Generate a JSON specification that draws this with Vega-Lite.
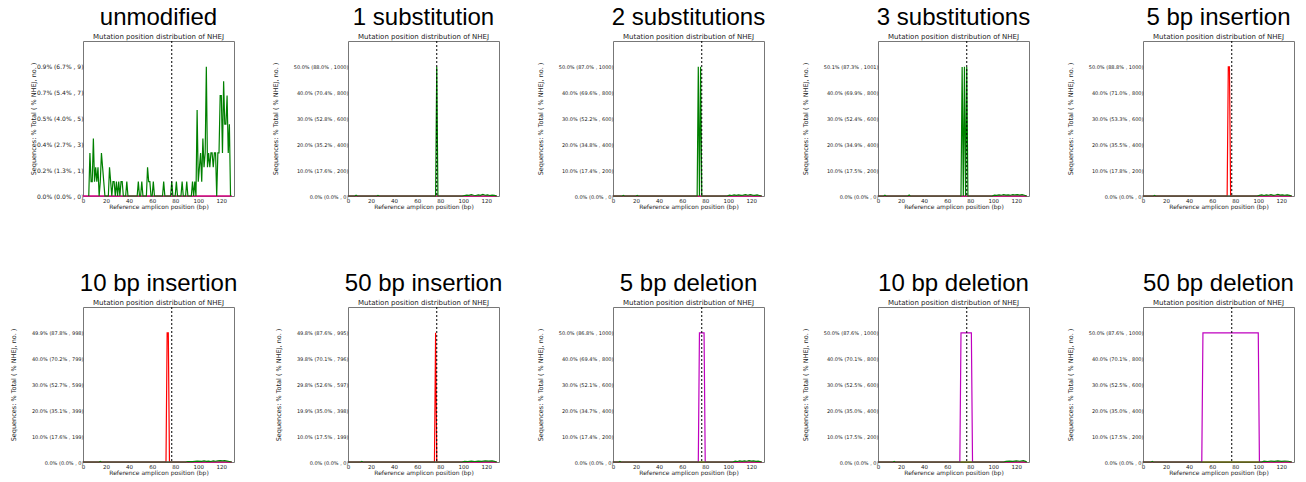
{
  "$schema": "https://vega.github.io/schema/vega-lite/v6.json",
  "background": "white",
  "padding": {"left": 9, "top": 5, "right": 5, "bottom": 5},
  "config": {
    "view": {"stroke": "#777", "strokeWidth": 1},
    "title": {"font": "Liberation Sans", "fontSize": 24, "fontWeight": "normal", "color": "black", "anchor": "middle", "offset": 1, "subtitleFont": "DejaVu Sans", "subtitleFontSize": 7, "subtitleColor": "#222", "subtitlePadding": 3},
    "axis": {"grid": false, "domain": false, "tickSize": 0, "labelFont": "DejaVu Sans", "labelColor": "#1a1a1a", "titleFont": "DejaVu Sans", "titleFontWeight": "normal", "titleColor": "#1a1a1a", "labelFlush": false, "labelOverlap": false},
    "axisX": {"labelPadding": 2, "labelFontSize": 5.5, "titleFontSize": 6, "titlePadding": 0},
    "axisY": {"labelPadding": 0, "labelFontSize": 5, "titleFontSize": 6.5, "titlePadding": 15},
    "line": {"strokeWidth": 1.2},
    "rule": {"strokeDash": [2, 2], "color": "black", "strokeWidth": 1}
  },
  "vconcat": [
    {
      "bounds": "flush",
      "spacing": 114,
      "hconcat": [
        {
          "title": {"text": "unmodified", "subtitle": "Mutation position distribution of NHEJ"},
          "width": 151, "height": 155,
          "layer": [
            {
              "data": {"values": [
                {"series": "insertion", "pos": 0, "count": 0}, {"series": "insertion", "pos": 129, "count": 0},
                {"series": "deletion", "pos": 0, "count": 0}, {"series": "deletion", "pos": 129, "count": 0},
                {"series": "substitution", "pos": 5, "count": 0}, {"series": "substitution", "pos": 6, "count": 3}, {"series": "substitution", "pos": 7, "count": 1}, {"series": "substitution", "pos": 8, "count": 1}, {"series": "substitution", "pos": 9, "count": 4}, {"series": "substitution", "pos": 10, "count": 1}, {"series": "substitution", "pos": 11, "count": 2}, {"series": "substitution", "pos": 12, "count": 1}, {"series": "substitution", "pos": 13, "count": 2}, {"series": "substitution", "pos": 14, "count": 0}, {"series": "substitution", "pos": 15, "count": 1}, {"series": "substitution", "pos": 16, "count": 3}, {"series": "substitution", "pos": 17, "count": 2}, {"series": "substitution", "pos": 18, "count": 1}, {"series": "substitution", "pos": 19, "count": 0}, {"series": "substitution", "pos": 22, "count": 0}, {"series": "substitution", "pos": 23, "count": 2}, {"series": "substitution", "pos": 24, "count": 1}, {"series": "substitution", "pos": 25, "count": 0}, {"series": "substitution", "pos": 26, "count": 1}, {"series": "substitution", "pos": 27, "count": 1}, {"series": "substitution", "pos": 28, "count": 0}, {"series": "substitution", "pos": 29, "count": 1}, {"series": "substitution", "pos": 30, "count": 0}, {"series": "substitution", "pos": 31, "count": 1}, {"series": "substitution", "pos": 32, "count": 0}, {"series": "substitution", "pos": 33, "count": 1}, {"series": "substitution", "pos": 34, "count": 1}, {"series": "substitution", "pos": 35, "count": 0}, {"series": "substitution", "pos": 37, "count": 0}, {"series": "substitution", "pos": 38, "count": 1}, {"series": "substitution", "pos": 39, "count": 0}, {"series": "substitution", "pos": 47, "count": 0}, {"series": "substitution", "pos": 48, "count": 1}, {"series": "substitution", "pos": 49, "count": 0}, {"series": "substitution", "pos": 50, "count": 0}, {"series": "substitution", "pos": 51, "count": 1}, {"series": "substitution", "pos": 52, "count": 0}, {"series": "substitution", "pos": 55, "count": 0}, {"series": "substitution", "pos": 56, "count": 2}, {"series": "substitution", "pos": 57, "count": 1}, {"series": "substitution", "pos": 58, "count": 1}, {"series": "substitution", "pos": 59, "count": 0}, {"series": "substitution", "pos": 60, "count": 0}, {"series": "substitution", "pos": 61, "count": 1}, {"series": "substitution", "pos": 62, "count": 0}, {"series": "substitution", "pos": 69, "count": 0}, {"series": "substitution", "pos": 70, "count": 1}, {"series": "substitution", "pos": 71, "count": 0}, {"series": "substitution", "pos": 76, "count": 0}, {"series": "substitution", "pos": 77, "count": 1}, {"series": "substitution", "pos": 78, "count": 0}, {"series": "substitution", "pos": 80, "count": 0}, {"series": "substitution", "pos": 81, "count": 1}, {"series": "substitution", "pos": 82, "count": 0}, {"series": "substitution", "pos": 85, "count": 0}, {"series": "substitution", "pos": 86, "count": 1}, {"series": "substitution", "pos": 87, "count": 0}, {"series": "substitution", "pos": 89, "count": 0}, {"series": "substitution", "pos": 90, "count": 1}, {"series": "substitution", "pos": 91, "count": 0}, {"series": "substitution", "pos": 94, "count": 0}, {"series": "substitution", "pos": 95, "count": 1}, {"series": "substitution", "pos": 96, "count": 0}, {"series": "substitution", "pos": 97, "count": 1}, {"series": "substitution", "pos": 98, "count": 0}, {"series": "substitution", "pos": 99, "count": 6}, {"series": "substitution", "pos": 100, "count": 1}, {"series": "substitution", "pos": 101, "count": 2}, {"series": "substitution", "pos": 102, "count": 3}, {"series": "substitution", "pos": 103, "count": 1}, {"series": "substitution", "pos": 104, "count": 4}, {"series": "substitution", "pos": 105, "count": 2}, {"series": "substitution", "pos": 106, "count": 3}, {"series": "substitution", "pos": 107, "count": 9}, {"series": "substitution", "pos": 108, "count": 2}, {"series": "substitution", "pos": 109, "count": 3}, {"series": "substitution", "pos": 110, "count": 2}, {"series": "substitution", "pos": 111, "count": 3}, {"series": "substitution", "pos": 112, "count": 3}, {"series": "substitution", "pos": 113, "count": 2}, {"series": "substitution", "pos": 114, "count": 3}, {"series": "substitution", "pos": 115, "count": 3}, {"series": "substitution", "pos": 116, "count": 0}, {"series": "substitution", "pos": 117, "count": 3}, {"series": "substitution", "pos": 118, "count": 3}, {"series": "substitution", "pos": 119, "count": 7}, {"series": "substitution", "pos": 120, "count": 7}, {"series": "substitution", "pos": 121, "count": 3}, {"series": "substitution", "pos": 122, "count": 8}, {"series": "substitution", "pos": 123, "count": 5}, {"series": "substitution", "pos": 124, "count": 5}, {"series": "substitution", "pos": 125, "count": 7}, {"series": "substitution", "pos": 126, "count": 3}, {"series": "substitution", "pos": 127, "count": 5}, {"series": "substitution", "pos": 128, "count": 0}
              ]},
              "mark": "line",
              "encoding": {
                "x": {"field": "pos", "type": "quantitative", "scale": {"domain": [0, 131], "nice": false}, "axis": {"values": [0, 20, 40, 60, 80, 100, 120], "tickCount": 10, "title": "Reference amplicon position (bp)"}},
                "y": {"field": "count", "type": "quantitative", "scale": {"domain": [0, 10.8], "nice": false}, "axis": {"values": [0, 1.8, 3.6, 5.4, 7.2, 9], "tickCount": 10, "labelFontSize": 6, "titlePadding": 0, "labelExpr": "['0.0% (0.0% , 0)', '0.2% (1.3% , 1)', '0.4% (2.7% , 3)', '0.5% (4.0% , 5)', '0.7% (5.4% , 7)', '0.9% (6.7% , 9)'][round(datum.value / 1.8)]", "title": "Sequences: % Total ( % NHEJ, no. )"}},
                "color": {"field": "series", "type": "nominal", "scale": {"domain": ["deletion", "insertion", "substitution"], "range": ["#bf00bf", "#ff0000", "#008000"]}, "legend": null}
              }
            },
            {"data": {"values": [{"cut": 77}]}, "mark": "rule", "encoding": {"x": {"field": "cut", "type": "quantitative"}}}
          ]
        },
        {
          "title": {"text": "1 substitution", "subtitle": "Mutation position distribution of NHEJ"},
          "width": 151, "height": 155,
          "layer": [
            {
              "data": {"values": [
                {"series": "insertion", "pos": 0, "count": 0}, {"series": "insertion", "pos": 129, "count": 0},
                {"series": "deletion", "pos": 0, "count": 0}, {"series": "deletion", "pos": 129, "count": 0},
                {"series": "substitution", "pos": 0, "count": 0}, {"series": "substitution", "pos": 6, "count": 0}, {"series": "substitution", "pos": 7, "count": 6}, {"series": "substitution", "pos": 8, "count": 0}, {"series": "substitution", "pos": 25, "count": 0}, {"series": "substitution", "pos": 26, "count": 4}, {"series": "substitution", "pos": 27, "count": 0}, {"series": "substitution", "pos": 76, "count": 0}, {"series": "substitution", "pos": 77, "count": 1000}, {"series": "substitution", "pos": 78, "count": 0}, {"series": "substitution", "pos": 99, "count": 0}, {"series": "substitution", "pos": 101, "count": 4}, {"series": "substitution", "pos": 103, "count": 7}, {"series": "substitution", "pos": 105, "count": 5}, {"series": "substitution", "pos": 107, "count": 10}, {"series": "substitution", "pos": 109, "count": 6}, {"series": "substitution", "pos": 111, "count": 4}, {"series": "substitution", "pos": 113, "count": 8}, {"series": "substitution", "pos": 115, "count": 5}, {"series": "substitution", "pos": 117, "count": 12}, {"series": "substitution", "pos": 119, "count": 6}, {"series": "substitution", "pos": 121, "count": 8}, {"series": "substitution", "pos": 123, "count": 4}, {"series": "substitution", "pos": 125, "count": 7}, {"series": "substitution", "pos": 127, "count": 5}, {"series": "substitution", "pos": 129, "count": 0}
              ]},
              "mark": "line",
              "encoding": {
                "x": {"field": "pos", "type": "quantitative", "scale": {"domain": [0, 131], "nice": false}, "axis": {"values": [0, 20, 40, 60, 80, 100, 120], "tickCount": 10, "title": "Reference amplicon position (bp)"}},
                "y": {"field": "count", "type": "quantitative", "scale": {"domain": [0, 1200], "nice": false}, "axis": {"values": [0, 200, 400, 600, 800, 1000], "tickCount": 10, "labelExpr": "['0.0% (0.0% , 0)', '10.0% (17.6% , 200)', '20.0% (35.2% , 400)', '30.0% (52.8% , 600)', '40.0% (70.4% , 800)', '50.0% (88.0% , 1000)'][round(datum.value / 200)]", "title": "Sequences: % Total ( % NHEJ, no. )"}},
                "color": {"field": "series", "type": "nominal", "scale": {"domain": ["deletion", "insertion", "substitution"], "range": ["#bf00bf", "#ff0000", "#008000"]}, "legend": null}
              }
            },
            {"data": {"values": [{"cut": 77}]}, "mark": "rule", "encoding": {"x": {"field": "cut", "type": "quantitative"}}}
          ]
        },
        {
          "title": {"text": "2 substitutions", "subtitle": "Mutation position distribution of NHEJ"},
          "width": 151, "height": 155,
          "layer": [
            {
              "data": {"values": [
                {"series": "insertion", "pos": 0, "count": 0}, {"series": "insertion", "pos": 129, "count": 0},
                {"series": "deletion", "pos": 0, "count": 0}, {"series": "deletion", "pos": 129, "count": 0},
                {"series": "substitution", "pos": 0, "count": 0}, {"series": "substitution", "pos": 8, "count": 0}, {"series": "substitution", "pos": 9, "count": 5}, {"series": "substitution", "pos": 10, "count": 0}, {"series": "substitution", "pos": 20, "count": 0}, {"series": "substitution", "pos": 21, "count": 4}, {"series": "substitution", "pos": 22, "count": 0}, {"series": "substitution", "pos": 73, "count": 0}, {"series": "substitution", "pos": 74, "count": 1000}, {"series": "substitution", "pos": 75, "count": 0}, {"series": "substitution", "pos": 76, "count": 1000}, {"series": "substitution", "pos": 77, "count": 0}, {"series": "substitution", "pos": 99, "count": 0}, {"series": "substitution", "pos": 101, "count": 6}, {"series": "substitution", "pos": 103, "count": 4}, {"series": "substitution", "pos": 105, "count": 8}, {"series": "substitution", "pos": 107, "count": 5}, {"series": "substitution", "pos": 109, "count": 9}, {"series": "substitution", "pos": 111, "count": 5}, {"series": "substitution", "pos": 113, "count": 7}, {"series": "substitution", "pos": 115, "count": 10}, {"series": "substitution", "pos": 117, "count": 6}, {"series": "substitution", "pos": 119, "count": 11}, {"series": "substitution", "pos": 121, "count": 7}, {"series": "substitution", "pos": 123, "count": 5}, {"series": "substitution", "pos": 125, "count": 8}, {"series": "substitution", "pos": 127, "count": 4}, {"series": "substitution", "pos": 129, "count": 0}
              ]},
              "mark": "line",
              "encoding": {
                "x": {"field": "pos", "type": "quantitative", "scale": {"domain": [0, 131], "nice": false}, "axis": {"values": [0, 20, 40, 60, 80, 100, 120], "tickCount": 10, "title": "Reference amplicon position (bp)"}},
                "y": {"field": "count", "type": "quantitative", "scale": {"domain": [0, 1200], "nice": false}, "axis": {"values": [0, 200, 400, 600, 800, 1000], "tickCount": 10, "labelExpr": "['0.0% (0.0% , 0)', '10.0% (17.4% , 200)', '20.0% (34.8% , 400)', '30.0% (52.2% , 600)', '40.0% (69.6% , 800)', '50.0% (87.0% , 1000)'][round(datum.value / 200)]", "title": "Sequences: % Total ( % NHEJ, no. )"}},
                "color": {"field": "series", "type": "nominal", "scale": {"domain": ["deletion", "insertion", "substitution"], "range": ["#bf00bf", "#ff0000", "#008000"]}, "legend": null}
              }
            },
            {"data": {"values": [{"cut": 77}]}, "mark": "rule", "encoding": {"x": {"field": "cut", "type": "quantitative"}}}
          ]
        },
        {
          "title": {"text": "3 substitutions", "subtitle": "Mutation position distribution of NHEJ"},
          "width": 151, "height": 155,
          "layer": [
            {
              "data": {"values": [
                {"series": "insertion", "pos": 0, "count": 0}, {"series": "insertion", "pos": 129, "count": 0},
                {"series": "deletion", "pos": 0, "count": 0}, {"series": "deletion", "pos": 129, "count": 0},
                {"series": "substitution", "pos": 0, "count": 0}, {"series": "substitution", "pos": 5, "count": 0}, {"series": "substitution", "pos": 6, "count": 6}, {"series": "substitution", "pos": 7, "count": 0}, {"series": "substitution", "pos": 26, "count": 0}, {"series": "substitution", "pos": 27, "count": 7}, {"series": "substitution", "pos": 28, "count": 0}, {"series": "substitution", "pos": 72, "count": 0}, {"series": "substitution", "pos": 73, "count": 1000}, {"series": "substitution", "pos": 74, "count": 0}, {"series": "substitution", "pos": 75, "count": 1001}, {"series": "substitution", "pos": 76, "count": 0}, {"series": "substitution", "pos": 77, "count": 1000}, {"series": "substitution", "pos": 78, "count": 0}, {"series": "substitution", "pos": 99, "count": 0}, {"series": "substitution", "pos": 101, "count": 7}, {"series": "substitution", "pos": 103, "count": 5}, {"series": "substitution", "pos": 105, "count": 9}, {"series": "substitution", "pos": 107, "count": 6}, {"series": "substitution", "pos": 109, "count": 10}, {"series": "substitution", "pos": 111, "count": 7}, {"series": "substitution", "pos": 113, "count": 9}, {"series": "substitution", "pos": 115, "count": 6}, {"series": "substitution", "pos": 117, "count": 11}, {"series": "substitution", "pos": 119, "count": 8}, {"series": "substitution", "pos": 121, "count": 10}, {"series": "substitution", "pos": 123, "count": 7}, {"series": "substitution", "pos": 125, "count": 11}, {"series": "substitution", "pos": 127, "count": 6}, {"series": "substitution", "pos": 129, "count": 0}
              ]},
              "mark": "line",
              "encoding": {
                "x": {"field": "pos", "type": "quantitative", "scale": {"domain": [0, 131], "nice": false}, "axis": {"values": [0, 20, 40, 60, 80, 100, 120], "tickCount": 10, "title": "Reference amplicon position (bp)"}},
                "y": {"field": "count", "type": "quantitative", "scale": {"domain": [0, 1201.2], "nice": false}, "axis": {"values": [0, 200.2, 400.4, 600.6, 800.8, 1001], "tickCount": 10, "labelExpr": "['0.0% (0.0% , 0)', '10.0% (17.5% , 200)', '20.0% (34.9% , 400)', '30.0% (52.4% , 600)', '40.0% (69.9% , 800)', '50.1% (87.3% , 1001)'][round(datum.value / 200.2)]", "title": "Sequences: % Total ( % NHEJ, no. )"}},
                "color": {"field": "series", "type": "nominal", "scale": {"domain": ["deletion", "insertion", "substitution"], "range": ["#bf00bf", "#ff0000", "#008000"]}, "legend": null}
              }
            },
            {"data": {"values": [{"cut": 77}]}, "mark": "rule", "encoding": {"x": {"field": "cut", "type": "quantitative"}}}
          ]
        },
        {
          "title": {"text": "5 bp insertion", "subtitle": "Mutation position distribution of NHEJ"},
          "width": 151, "height": 155,
          "layer": [
            {
              "data": {"values": [
                {"series": "insertion", "pos": 0, "count": 0}, {"series": "insertion", "pos": 73, "count": 0}, {"series": "insertion", "pos": 74, "count": 1000}, {"series": "insertion", "pos": 75, "count": 1000}, {"series": "insertion", "pos": 76, "count": 0}, {"series": "insertion", "pos": 129, "count": 0},
                {"series": "deletion", "pos": 0, "count": 0}, {"series": "deletion", "pos": 129, "count": 0},
                {"series": "substitution", "pos": 0, "count": 0}, {"series": "substitution", "pos": 9, "count": 0}, {"series": "substitution", "pos": 10, "count": 5}, {"series": "substitution", "pos": 11, "count": 0}, {"series": "substitution", "pos": 99, "count": 0}, {"series": "substitution", "pos": 101, "count": 5}, {"series": "substitution", "pos": 103, "count": 8}, {"series": "substitution", "pos": 105, "count": 4}, {"series": "substitution", "pos": 107, "count": 9}, {"series": "substitution", "pos": 109, "count": 6}, {"series": "substitution", "pos": 111, "count": 10}, {"series": "substitution", "pos": 113, "count": 5}, {"series": "substitution", "pos": 115, "count": 8}, {"series": "substitution", "pos": 117, "count": 12}, {"series": "substitution", "pos": 119, "count": 7}, {"series": "substitution", "pos": 121, "count": 9}, {"series": "substitution", "pos": 123, "count": 6}, {"series": "substitution", "pos": 125, "count": 8}, {"series": "substitution", "pos": 127, "count": 5}, {"series": "substitution", "pos": 129, "count": 0}
              ]},
              "mark": "line",
              "encoding": {
                "x": {"field": "pos", "type": "quantitative", "scale": {"domain": [0, 131], "nice": false}, "axis": {"values": [0, 20, 40, 60, 80, 100, 120], "tickCount": 10, "title": "Reference amplicon position (bp)"}},
                "y": {"field": "count", "type": "quantitative", "scale": {"domain": [0, 1200], "nice": false}, "axis": {"values": [0, 200, 400, 600, 800, 1000], "tickCount": 10, "labelExpr": "['0.0% (0.0% , 0)', '10.0% (17.8% , 200)', '20.0% (35.5% , 400)', '30.0% (53.3% , 600)', '40.0% (71.0% , 800)', '50.0% (88.8% , 1000)'][round(datum.value / 200)]", "title": "Sequences: % Total ( % NHEJ, no. )"}},
                "color": {"field": "series", "type": "nominal", "scale": {"domain": ["deletion", "insertion", "substitution"], "range": ["#bf00bf", "#ff0000", "#008000"]}, "legend": null}
              }
            },
            {"data": {"values": [{"cut": 77}]}, "mark": "rule", "encoding": {"x": {"field": "cut", "type": "quantitative"}}}
          ]
        }
      ]
    },
    {
      "bounds": "flush",
      "spacing": 114,
      "hconcat": [
        {
          "title": {"text": "10 bp insertion", "subtitle": "Mutation position distribution of NHEJ"},
          "width": 151, "height": 155,
          "layer": [
            {
              "data": {"values": [
                {"series": "insertion", "pos": 0, "count": 0}, {"series": "insertion", "pos": 72, "count": 0}, {"series": "insertion", "pos": 73, "count": 998}, {"series": "insertion", "pos": 74, "count": 998}, {"series": "insertion", "pos": 75, "count": 0}, {"series": "insertion", "pos": 129, "count": 0},
                {"series": "deletion", "pos": 0, "count": 0}, {"series": "deletion", "pos": 129, "count": 0},
                {"series": "substitution", "pos": 0, "count": 0}, {"series": "substitution", "pos": 14, "count": 0}, {"series": "substitution", "pos": 15, "count": 5}, {"series": "substitution", "pos": 16, "count": 0}, {"series": "substitution", "pos": 89, "count": 0}, {"series": "substitution", "pos": 91, "count": 4}, {"series": "substitution", "pos": 95, "count": 3}, {"series": "substitution", "pos": 99, "count": 6}, {"series": "substitution", "pos": 103, "count": 5}, {"series": "substitution", "pos": 105, "count": 9}, {"series": "substitution", "pos": 107, "count": 5}, {"series": "substitution", "pos": 109, "count": 7}, {"series": "substitution", "pos": 111, "count": 4}, {"series": "substitution", "pos": 113, "count": 8}, {"series": "substitution", "pos": 115, "count": 6}, {"series": "substitution", "pos": 117, "count": 9}, {"series": "substitution", "pos": 119, "count": 10}, {"series": "substitution", "pos": 121, "count": 9}, {"series": "substitution", "pos": 123, "count": 10}, {"series": "substitution", "pos": 125, "count": 7}, {"series": "substitution", "pos": 127, "count": 4}, {"series": "substitution", "pos": 129, "count": 0}
              ]},
              "mark": "line",
              "encoding": {
                "x": {"field": "pos", "type": "quantitative", "scale": {"domain": [0, 131], "nice": false}, "axis": {"values": [0, 20, 40, 60, 80, 100, 120], "tickCount": 10, "title": "Reference amplicon position (bp)"}},
                "y": {"field": "count", "type": "quantitative", "scale": {"domain": [0, 1197.6], "nice": false}, "axis": {"values": [0, 199.6, 399.2, 598.8, 798.4, 998], "tickCount": 10, "labelExpr": "['0.0% (0.0% , 0)', '10.0% (17.6% , 199)', '20.0% (35.1% , 399)', '30.0% (52.7% , 599)', '40.0% (70.2% , 799)', '49.9% (87.8% , 998)'][round(datum.value / 199.6)]", "title": "Sequences: % Total ( % NHEJ, no. )"}},
                "color": {"field": "series", "type": "nominal", "scale": {"domain": ["deletion", "insertion", "substitution"], "range": ["#bf00bf", "#ff0000", "#008000"]}, "legend": null}
              }
            },
            {"data": {"values": [{"cut": 77}]}, "mark": "rule", "encoding": {"x": {"field": "cut", "type": "quantitative"}}}
          ]
        },
        {
          "title": {"text": "50 bp insertion", "subtitle": "Mutation position distribution of NHEJ"},
          "width": 151, "height": 155,
          "layer": [
            {
              "data": {"values": [
                {"series": "insertion", "pos": 0, "count": 0}, {"series": "insertion", "pos": 75, "count": 0}, {"series": "insertion", "pos": 76, "count": 995}, {"series": "insertion", "pos": 77, "count": 0}, {"series": "insertion", "pos": 129, "count": 0},
                {"series": "deletion", "pos": 0, "count": 0}, {"series": "deletion", "pos": 129, "count": 0},
                {"series": "substitution", "pos": 0, "count": 0}, {"series": "substitution", "pos": 11, "count": 0}, {"series": "substitution", "pos": 12, "count": 4}, {"series": "substitution", "pos": 13, "count": 0}, {"series": "substitution", "pos": 99, "count": 0}, {"series": "substitution", "pos": 101, "count": 5}, {"series": "substitution", "pos": 104, "count": 3}, {"series": "substitution", "pos": 107, "count": 6}, {"series": "substitution", "pos": 110, "count": 4}, {"series": "substitution", "pos": 113, "count": 7}, {"series": "substitution", "pos": 116, "count": 5}, {"series": "substitution", "pos": 119, "count": 9}, {"series": "substitution", "pos": 122, "count": 6}, {"series": "substitution", "pos": 125, "count": 8}, {"series": "substitution", "pos": 127, "count": 5}, {"series": "substitution", "pos": 129, "count": 0}
              ]},
              "mark": "line",
              "encoding": {
                "x": {"field": "pos", "type": "quantitative", "scale": {"domain": [0, 131], "nice": false}, "axis": {"values": [0, 20, 40, 60, 80, 100, 120], "tickCount": 10, "title": "Reference amplicon position (bp)"}},
                "y": {"field": "count", "type": "quantitative", "scale": {"domain": [0, 1194], "nice": false}, "axis": {"values": [0, 199, 398, 597, 796, 995], "tickCount": 10, "labelExpr": "['0.0% (0.0% , 0)', '10.0% (17.5% , 199)', '19.9% (35.0% , 398)', '29.8% (52.6% , 597)', '39.8% (70.1% , 796)', '49.8% (87.6% , 995)'][round(datum.value / 199)]", "title": "Sequences: % Total ( % NHEJ, no. )"}},
                "color": {"field": "series", "type": "nominal", "scale": {"domain": ["deletion", "insertion", "substitution"], "range": ["#bf00bf", "#ff0000", "#008000"]}, "legend": null}
              }
            },
            {"data": {"values": [{"cut": 77}]}, "mark": "rule", "encoding": {"x": {"field": "cut", "type": "quantitative"}}}
          ]
        },
        {
          "title": {"text": "5 bp deletion", "subtitle": "Mutation position distribution of NHEJ"},
          "width": 151, "height": 155,
          "layer": [
            {
              "data": {"values": [
                {"series": "insertion", "pos": 0, "count": 0}, {"series": "insertion", "pos": 129, "count": 0},
                {"series": "deletion", "pos": 0, "count": 0}, {"series": "deletion", "pos": 74, "count": 0}, {"series": "deletion", "pos": 75, "count": 1000}, {"series": "deletion", "pos": 79, "count": 1000}, {"series": "deletion", "pos": 80, "count": 0}, {"series": "deletion", "pos": 129, "count": 0},
                {"series": "substitution", "pos": 0, "count": 0}, {"series": "substitution", "pos": 5, "count": 0}, {"series": "substitution", "pos": 6, "count": 5}, {"series": "substitution", "pos": 7, "count": 0}, {"series": "substitution", "pos": 104, "count": 0}, {"series": "substitution", "pos": 106, "count": 6}, {"series": "substitution", "pos": 108, "count": 4}, {"series": "substitution", "pos": 110, "count": 8}, {"series": "substitution", "pos": 112, "count": 5}, {"series": "substitution", "pos": 114, "count": 9}, {"series": "substitution", "pos": 116, "count": 6}, {"series": "substitution", "pos": 118, "count": 10}, {"series": "substitution", "pos": 120, "count": 7}, {"series": "substitution", "pos": 122, "count": 9}, {"series": "substitution", "pos": 124, "count": 5}, {"series": "substitution", "pos": 126, "count": 7}, {"series": "substitution", "pos": 129, "count": 0}
              ]},
              "mark": "line",
              "encoding": {
                "x": {"field": "pos", "type": "quantitative", "scale": {"domain": [0, 131], "nice": false}, "axis": {"values": [0, 20, 40, 60, 80, 100, 120], "tickCount": 10, "title": "Reference amplicon position (bp)"}},
                "y": {"field": "count", "type": "quantitative", "scale": {"domain": [0, 1200], "nice": false}, "axis": {"values": [0, 200, 400, 600, 800, 1000], "tickCount": 10, "labelExpr": "['0.0% (0.0% , 0)', '10.0% (17.4% , 200)', '20.0% (34.7% , 400)', '30.0% (52.1% , 600)', '40.0% (69.4% , 800)', '50.0% (86.8% , 1000)'][round(datum.value / 200)]", "title": "Sequences: % Total ( % NHEJ, no. )"}},
                "color": {"field": "series", "type": "nominal", "scale": {"domain": ["deletion", "insertion", "substitution"], "range": ["#bf00bf", "#ff0000", "#008000"]}, "legend": null}
              }
            },
            {"data": {"values": [{"cut": 77}]}, "mark": "rule", "encoding": {"x": {"field": "cut", "type": "quantitative"}}}
          ]
        },
        {
          "title": {"text": "10 bp deletion", "subtitle": "Mutation position distribution of NHEJ"},
          "width": 151, "height": 155,
          "layer": [
            {
              "data": {"values": [
                {"series": "insertion", "pos": 0, "count": 0}, {"series": "insertion", "pos": 129, "count": 0},
                {"series": "deletion", "pos": 0, "count": 0}, {"series": "deletion", "pos": 71, "count": 0}, {"series": "deletion", "pos": 72, "count": 1000}, {"series": "deletion", "pos": 81, "count": 1000}, {"series": "deletion", "pos": 82, "count": 0}, {"series": "deletion", "pos": 129, "count": 0},
                {"series": "substitution", "pos": 0, "count": 0}, {"series": "substitution", "pos": 13, "count": 0}, {"series": "substitution", "pos": 14, "count": 4}, {"series": "substitution", "pos": 15, "count": 0}, {"series": "substitution", "pos": 109, "count": 0}, {"series": "substitution", "pos": 111, "count": 5}, {"series": "substitution", "pos": 114, "count": 7}, {"series": "substitution", "pos": 117, "count": 5}, {"series": "substitution", "pos": 120, "count": 9}, {"series": "substitution", "pos": 123, "count": 6}, {"series": "substitution", "pos": 126, "count": 10}, {"series": "substitution", "pos": 128, "count": 5}, {"series": "substitution", "pos": 129, "count": 0}
              ]},
              "mark": "line",
              "encoding": {
                "x": {"field": "pos", "type": "quantitative", "scale": {"domain": [0, 131], "nice": false}, "axis": {"values": [0, 20, 40, 60, 80, 100, 120], "tickCount": 10, "title": "Reference amplicon position (bp)"}},
                "y": {"field": "count", "type": "quantitative", "scale": {"domain": [0, 1200], "nice": false}, "axis": {"values": [0, 200, 400, 600, 800, 1000], "tickCount": 10, "labelExpr": "['0.0% (0.0% , 0)', '10.0% (17.5% , 200)', '20.0% (35.0% , 400)', '30.0% (52.5% , 600)', '40.0% (70.1% , 800)', '50.0% (87.6% , 1000)'][round(datum.value / 200)]", "title": "Sequences: % Total ( % NHEJ, no. )"}},
                "color": {"field": "series", "type": "nominal", "scale": {"domain": ["deletion", "insertion", "substitution"], "range": ["#bf00bf", "#ff0000", "#008000"]}, "legend": null}
              }
            },
            {"data": {"values": [{"cut": 77}]}, "mark": "rule", "encoding": {"x": {"field": "cut", "type": "quantitative"}}}
          ]
        },
        {
          "title": {"text": "50 bp deletion", "subtitle": "Mutation position distribution of NHEJ"},
          "width": 151, "height": 155,
          "layer": [
            {
              "data": {"values": [
                {"series": "insertion", "pos": 0, "count": 0}, {"series": "insertion", "pos": 129, "count": 0},
                {"series": "deletion", "pos": 0, "count": 0}, {"series": "deletion", "pos": 51, "count": 0}, {"series": "deletion", "pos": 52, "count": 1000}, {"series": "deletion", "pos": 100, "count": 1000}, {"series": "deletion", "pos": 101, "count": 0}, {"series": "deletion", "pos": 129, "count": 0},
                {"series": "substitution", "pos": 0, "count": 0}, {"series": "substitution", "pos": 7, "count": 0}, {"series": "substitution", "pos": 8, "count": 4}, {"series": "substitution", "pos": 9, "count": 0}, {"series": "substitution", "pos": 103, "count": 0}, {"series": "substitution", "pos": 105, "count": 6}, {"series": "substitution", "pos": 108, "count": 4}, {"series": "substitution", "pos": 111, "count": 7}, {"series": "substitution", "pos": 114, "count": 5}, {"series": "substitution", "pos": 117, "count": 8}, {"series": "substitution", "pos": 120, "count": 5}, {"series": "substitution", "pos": 123, "count": 7}, {"series": "substitution", "pos": 126, "count": 6}, {"series": "substitution", "pos": 129, "count": 0}
              ]},
              "mark": "line",
              "encoding": {
                "x": {"field": "pos", "type": "quantitative", "scale": {"domain": [0, 131], "nice": false}, "axis": {"values": [0, 20, 40, 60, 80, 100, 120], "tickCount": 10, "title": "Reference amplicon position (bp)"}},
                "y": {"field": "count", "type": "quantitative", "scale": {"domain": [0, 1200], "nice": false}, "axis": {"values": [0, 200, 400, 600, 800, 1000], "tickCount": 10, "labelExpr": "['0.0% (0.0% , 0)', '10.0% (17.5% , 200)', '20.0% (35.0% , 400)', '30.0% (52.5% , 600)', '40.0% (70.1% , 800)', '50.0% (87.6% , 1000)'][round(datum.value / 200)]", "title": "Sequences: % Total ( % NHEJ, no. )"}},
                "color": {"field": "series", "type": "nominal", "scale": {"domain": ["deletion", "insertion", "substitution"], "range": ["#bf00bf", "#ff0000", "#008000"]}, "legend": null}
              }
            },
            {"data": {"values": [{"cut": 77}]}, "mark": "rule", "encoding": {"x": {"field": "cut", "type": "quantitative"}}}
          ]
        }
      ]
    }
  ],
  "bounds": "flush",
  "spacing": 266
}
